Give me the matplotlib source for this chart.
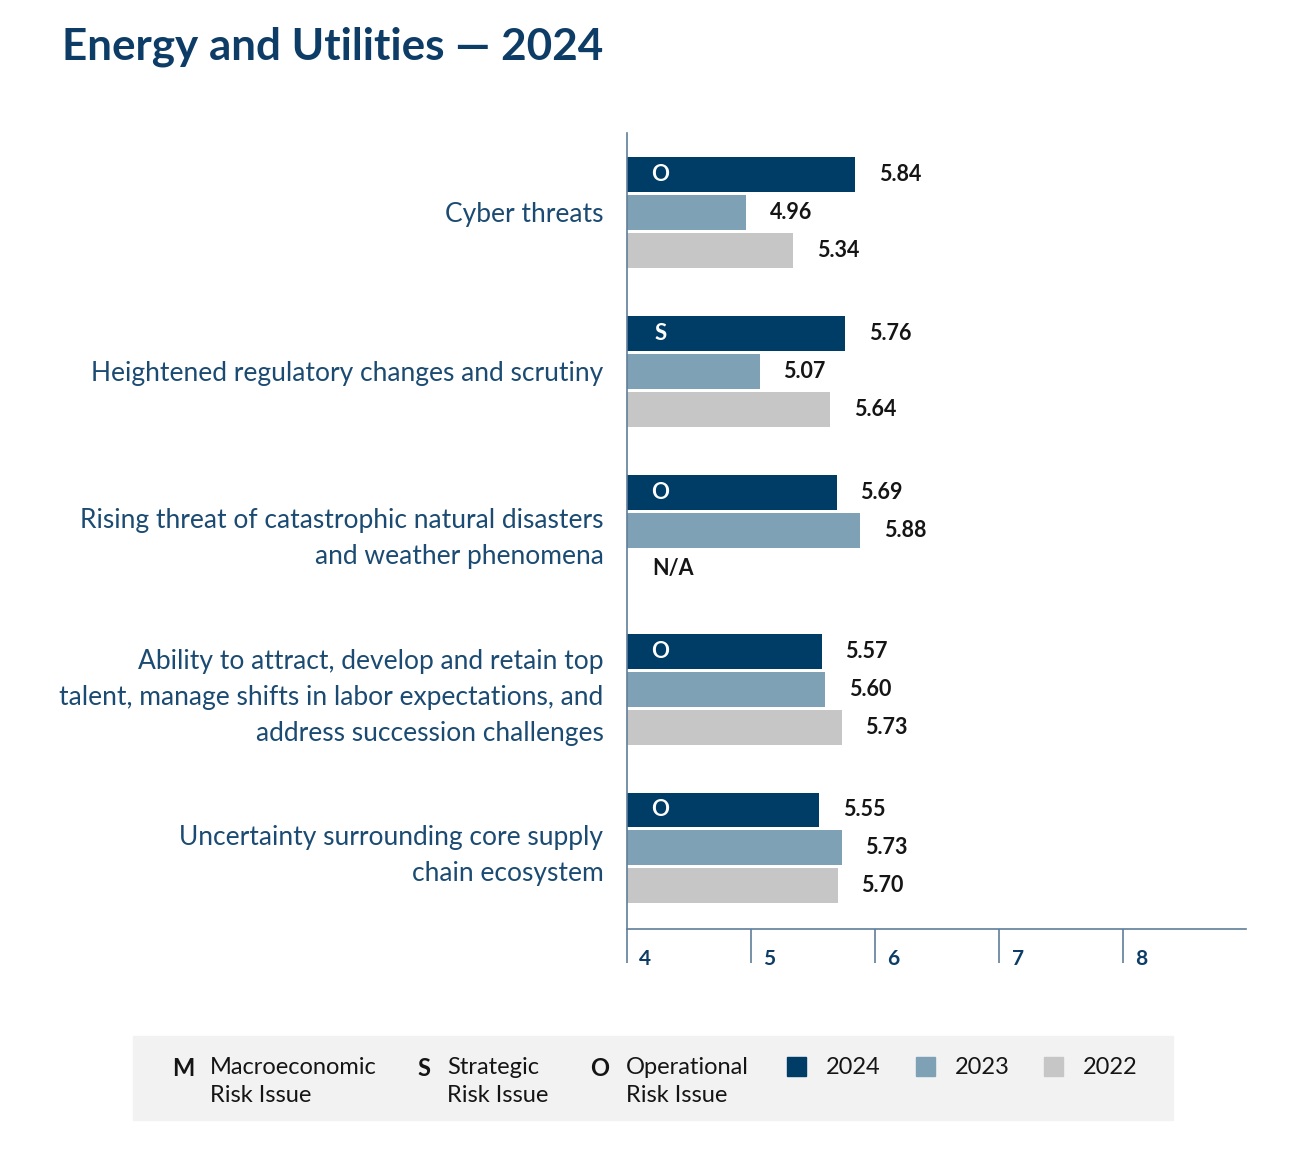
import matplotlib.pyplot as plt
from matplotlib.patches import Rectangle
import numpy as np

plt.rcParams['font.family'] = ['Lato', 'DejaVu Sans']

# data
categories = [
    "Cyber threats",
    "Heightened regulatory changes and scrutiny",
    "Rising threat of catastrophic natural disasters\nand weather phenomena",
    "Ability to attract, develop and retain top\ntalent, manage shifts in labor expectations, and\naddress succession challenges",
    "Uncertainty surrounding core supply\nchain ecosystem",
]
risk_type = ["O", "S", "O", "O", "O"]
vals_2024 = [5.84, 5.76, 5.69, 5.57, 5.55]
vals_2023 = [4.96, 5.07, 5.88, 5.60, 5.73]
vals_2022 = [5.34, 5.64, None, 5.73, 5.70]
years = ["2024", "2023", "2022"]

colors = {"2024": "#003d66", "2023": "#7fa1b6", "2022": "#c6c6c6"}
label_blue = "#1b4b72"
title_blue = "#0d3d66"
axis_col = "#5f7f99"
text_dark = "#151515"

fig = plt.figure(figsize=(13, 11.53), dpi=100)
ax = fig.add_axes([627 / 1300, 224 / 1153, 619 / 1300, 796 / 1153])

xmin = 4
ypos = np.arange(len(categories))
step = 0.239
bh = 0.22
series = [vals_2024, vals_2023, vals_2022]

for k, (yr, vals) in enumerate(zip(years, series)):
    for i, v in enumerate(vals):
        y = ypos[i] + (k - 1) * step
        if v is None:
            ax.text(xmin + 0.2, y, "N/A", ha="left", va="center",
                    fontsize=15.5, fontweight="bold", color=text_dark)
            continue
        ax.barh(y, v - xmin, left=xmin, height=bh, color=colors[yr])
        ax.text(v + 0.19, y, f"{v:.2f}", ha="left", va="center",
                fontsize=15.5, fontweight="bold", color=text_dark)
        if k == 0:
            ax.text(xmin + 0.27, y, risk_type[i], ha="center", va="center",
                    fontsize=16, fontweight="bold", color="white")

ax.set_xlim(4, 8.99)
ax.set_ylim(4.51, -0.50)

ax.set_yticks(ypos)
ax.set_yticklabels(categories, fontsize=19, color=label_blue, linespacing=1.55,
                   ha="right", multialignment="right")
ax.tick_params(axis="y", length=0, pad=17)

ax.set_xticks([4, 5, 6, 7, 8])
ax.set_xticklabels([])
ax.tick_params(axis="x", length=24.5, width=1.2, color=axis_col, direction="out")
for t in [4, 5, 6, 7, 8]:
    ax.text(t + 0.1, -0.025, str(t), transform=ax.get_xaxis_transform(),
            ha="left", va="top", fontsize=15, fontweight="bold", color=title_blue)

for s in ["top", "right"]:
    ax.spines[s].set_visible(False)
ax.spines["left"].set_color(axis_col)
ax.spines["bottom"].set_color(axis_col)
ax.spines["left"].set_linewidth(1.2)
ax.spines["bottom"].set_linewidth(1.2)

fig.text(62 / 1300, 1 - 47 / 1153, "Energy and Utilities \u2014 2024", ha="left", va="center",
         fontsize=31.7, fontweight="bold", color=title_blue)

# legend box
fig.patches.append(Rectangle((133 / 1300, 1 - 1120 / 1153), 1040 / 1300, 84 / 1153,
                             transform=fig.transFigure, color="#f2f2f2", zorder=0))
ly1 = 1 - 1068 / 1153
ly2 = 1 - 1095 / 1153
leg_items = [("M", 172, "Macroeconomic", 210), ("S", 417, "Strategic", 447),
             ("O", 590, "Operational", 626)]
for letter, lx, txt, tx in leg_items:
    fig.text(lx / 1300, ly1, letter, ha="left", va="center", fontsize=17,
             fontweight="bold", color=text_dark)
    fig.text(tx / 1300, ly1, txt, ha="left", va="center", fontsize=17, color=text_dark)
    fig.text(tx / 1300, ly2, "Risk Issue", ha="left", va="center", fontsize=17, color=text_dark)

for yr, sx in zip(years, [787, 916, 1044]):
    fig.patches.append(Rectangle((sx / 1300, 1 - 1076 / 1153), 19 / 1300, 19 / 1153,
                                 transform=fig.transFigure, color=colors[yr]))
    fig.text((sx + 39) / 1300, ly1, yr, ha="left", va="center", fontsize=17, color=text_dark)

fig.savefig("out.png", dpi=100)
